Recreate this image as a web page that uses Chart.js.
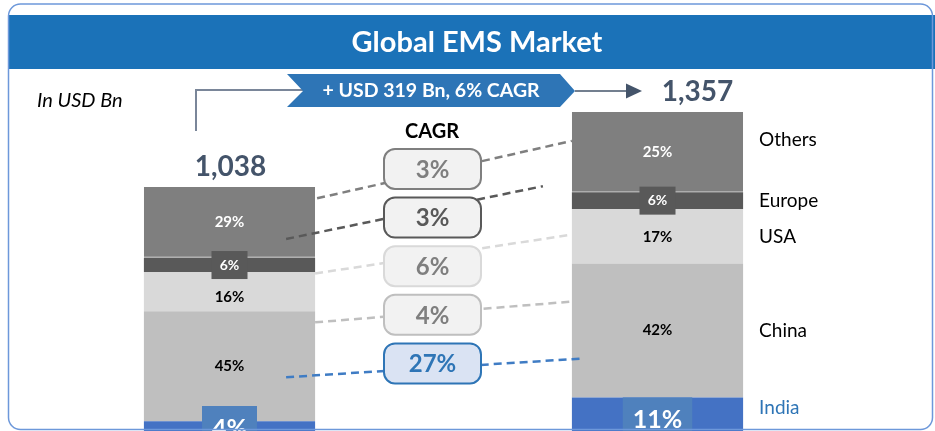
<!DOCTYPE html>
<html>
<head>
<meta charset="utf-8">
<script src="https://cdn.jsdelivr.net/npm/chart.js@4.4.1/dist/chart.umd.min.js"></script>
<style>
  html, body { margin: 0; padding: 0; background: #fff; }
  #wrap { width: 935px; height: 431px; position: relative; }
</style>
</head>
<body>
<div id="wrap"><canvas id="emsChart"></canvas></div>
<script>
// Data points (USD Bn), bottom to top of each stack
const regions = ['India', 'China', 'USA', 'Europe', 'Others'];
const categories = ['Base year', 'CAGR', 'Forecast year'];
const baseValues = [42, 467, 166, 62, 301];
const forecastValues = [143, 570, 231, 72, 341];
const baseShares = ['4%', '45%', '16%', '6%', '29%'];
const forecastShares = ['11%', '42%', '17%', '6%', '25%'];
const cagrLabels = ['27%', '4%', '6%', '3%', '3%'];
const totalLabels = ['1,038', '1,357'];
const growthLabel = '+ USD 319 Bn, 6% CAGR';

// Colours per region
const segColors = ['#4472C4', '#BFBFBF', '#D9D9D9', '#595959', '#7F7F7F'];
const FONT = 'Lato, "Open Sans", sans-serif';
Chart.defaults.font.family = FONT;

function roundRect(ctx, x, y, w, h, r) {
  ctx.beginPath();
  ctx.moveTo(x + r, y);
  ctx.arcTo(x + w, y, x + w, y + h, r);
  ctx.arcTo(x + w, y + h, x, y + h, r);
  ctx.arcTo(x, y + h, x, y, r);
  ctx.arcTo(x, y, x + w, y, r);
  ctx.closePath();
}

function text(ctx, str, x, y, font, color, align) {
  ctx.font = font;
  ctx.fillStyle = color;
  ctx.textAlign = align || 'center';
  ctx.textBaseline = 'middle';
  ctx.fillText(str, x, y);
}

// segment geometry helper: returns top/bottom/edges of a bar piece
function seg(chart, region, col) {
  const el = chart.getDatasetMeta(region).data[col];
  return { top: el.y, bottom: el.base, left: el.x - el.width / 2, right: el.x + el.width / 2, cx: el.x };
}

const decorations = {
  id: 'decorations',
  beforeDraw(chart) {
    const ctx = chart.ctx;
    ctx.save();
    ctx.fillStyle = '#fff';
    ctx.fillRect(0, 0, chart.width, chart.height);
    // header band
    ctx.fillStyle = '#1B72B8';
    ctx.fillRect(9, 15, chart.width - 9, 54);
    text(ctx, 'Global EMS Market', 477, 43, 'bold 29px ' + FONT, '#fff');
    ctx.restore();
  },
  afterDatasetsDraw(chart) {
    const ctx = chart.ctx;
    ctx.save();

    // dashed connectors: [color, leftRegion, leftFrac, leftDx, rightRegion, rightFrac, rightDx]
    const links = [
      ['#7F7F7F', 4, 0.16, 2, 4, 0.36, 0],
      ['#595959', 4, 0.735, -29, 4, 0.925, -29],
      ['#D9D9D9', 2, 0.03, 0, 2, 0.47, 0],
      ['#BFBFBF', 1, 0.10, 0, 1, 0.285, 0],
      ['#3F7CC4', 1, 0.60, -29, 1, 0.71, 10]
    ];
    ctx.lineWidth = 2.5;
    ctx.setLineDash([8, 5]);
    links.forEach(l => {
      const a = seg(chart, l[1], 0), b = seg(chart, l[4], 2);
      ctx.strokeStyle = l[0];
      ctx.beginPath();
      ctx.moveTo(a.right + l[3], a.top + l[2] * (a.bottom - a.top));
      ctx.lineTo(b.left + l[6], b.top + l[5] * (b.bottom - b.top));
      ctx.stroke();
    });
    ctx.setLineDash([]);

    // CAGR boxes, top to bottom = Others .. India
    const boxStyles = {
      4: ['#F2F2F2', '#7F7F7F', '#7F7F7F'],
      3: ['#F2F2F2', '#595959', '#595959'],
      2: ['#F2F2F2', '#D9D9D9', '#7F7F7F'],
      1: ['#F2F2F2', '#BFBFBF', '#7F7F7F'],
      0: ['#DAE3F3', '#2E75B6', '#2E75B6']
    };
    text(ctx, 'CAGR', 432, 132, 'bold 20px ' + FONT, '#000');
    [4, 3, 2, 1, 0].forEach((r, k) => {
      const st = boxStyles[r];
      const y = 149 + k * 48.6;
      roundRect(ctx, 384, y, 97, 40, 11);
      ctx.fillStyle = st[0];
      ctx.fill();
      ctx.lineWidth = 2;
      ctx.strokeStyle = st[1];
      ctx.stroke();
      text(ctx, cagrLabels[r], 432.5, y + 21, 'bold 24px ' + FONT, st[2]);
    });

    // labels inside bars
    const labelNudge = [[0, 0, 5, 0, 0], [0, 0, 1, 0, 0]];
    [[0, baseShares], [2, forecastShares]].forEach(([col, shares], b) => {
      regions.forEach((name, r) => {
        const s = seg(chart, r, col);
        const mid = (s.top + s.bottom) / 2 + labelNudge[b][r];
        if (name === 'Europe') {
          ctx.fillStyle = '#595959';
          ctx.fillRect(s.cx - 18, mid - 14, 36, 28);
          text(ctx, shares[r], s.cx, mid, 'bold 14px ' + FONT, '#fff');
        } else if (name === 'India') {
          ctx.font = 'bold 25px ' + FONT;
          const w = ctx.measureText(shares[r]).width + 20;
          const top = Math.min(s.top, s.bottom - 25);
          ctx.fillStyle = '#4F81BD';
          ctx.fillRect(s.cx - w / 2, top, w, 44);
          text(ctx, shares[r], s.cx, top + 23, 'bold 25px ' + FONT, '#fff');
        } else {
          const col2 = name === 'Others' ? '#fff' : '#000';
          text(ctx, shares[r], s.cx, mid, 'bold 15px ' + FONT, col2);
        }
      });
    });

    // totals above bars
    const topL = seg(chart, 4, 0), topR = seg(chart, 4, 2);
    text(ctx, totalLabels[0], topL.cx + 1, topL.top - 20, 'bold 28px ' + FONT, '#44546A');
    text(ctx, totalLabels[1], topR.cx + 40, topR.top - 20, 'bold 28px ' + FONT, '#44546A');

    // elbow connector into the growth banner
    ctx.strokeStyle = '#7A8699';
    ctx.lineWidth = 2;
    ctx.beginPath();
    ctx.moveTo(196, 131);
    ctx.lineTo(196, 90);
    ctx.lineTo(303, 90);
    ctx.stroke();

    // growth banner
    ctx.fillStyle = '#2E75B6';
    ctx.beginPath();
    ctx.moveTo(287, 74);
    ctx.lineTo(560, 74);
    ctx.lineTo(575, 91);
    ctx.lineTo(560, 107);
    ctx.lineTo(287, 107);
    ctx.lineTo(303, 91);
    ctx.closePath();
    ctx.fill();
    text(ctx, growthLabel, 431, 91, 'bold 19.5px ' + FONT, '#fff');

    // arrow to forecast total
    ctx.strokeStyle = '#44546A';
    ctx.lineWidth = 1.5;
    ctx.beginPath();
    ctx.moveTo(575, 91);
    ctx.lineTo(628, 91);
    ctx.stroke();
    ctx.fillStyle = '#44546A';
    ctx.beginPath();
    ctx.moveTo(626, 83.5);
    ctx.lineTo(642, 91);
    ctx.lineTo(626, 98.5);
    ctx.closePath();
    ctx.fill();

    // unit note
    text(ctx, 'In USD Bn', 37, 101, 'italic 20px ' + FONT, '#000', 'left');

    // region names to the right of the forecast bar
    const nudge = [-6, 0, 1, 0, -12];
    regions.forEach((name, r) => {
      const s = seg(chart, r, 2);
      const y = (s.top + Math.min(s.bottom, chart.height)) / 2 + nudge[r];
      text(ctx, name, s.right + 16, y, '19px ' + FONT, name === 'India' ? '#2E75B6' : '#000', 'left');
    });

    // outer frame
    ctx.strokeStyle = '#6D98DA';
    ctx.lineWidth = 1.5;
    roundRect(ctx, 8.5, 4, 924, 425.5, 12);
    ctx.stroke();

    ctx.restore();
  }
};

const datasets = regions.map((name, i) => ({
  label: name,
  data: [baseValues[i], null, forecastValues[i]],
  backgroundColor: segColors[i],
  borderColor: '#A6A6A6',
  borderWidth: name === 'Others' ? { top: 0, left: 0, right: 0, bottom: 1 } : 0,
  borderSkipped: false,
  categoryPercentage: 1,
  barPercentage: 0.8
}));

const ctx = document.getElementById('emsChart').getContext('2d');
new Chart(ctx, {
  type: 'bar',
  data: { labels: categories, datasets: datasets },
  options: {
    responsive: true,
    maintainAspectRatio: false,
    animation: false,
    layout: { padding: { left: 122.5, right: 170.5, top: 78.4, bottom: 0 } },
    scales: {
      x: { stacked: true, display: false },
      y: { stacked: true, display: false, min: 0, max: 1500 }
    },
    plugins: { legend: { display: false }, tooltip: { enabled: false } }
  },
  plugins: [decorations]
});
</script>
</body>
</html>
